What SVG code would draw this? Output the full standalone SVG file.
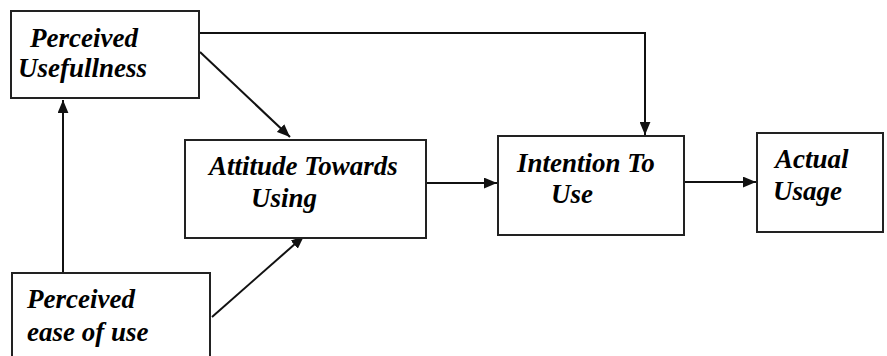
<svg xmlns="http://www.w3.org/2000/svg" width="887" height="356" viewBox="0 0 887 356">
<style>
.box{fill:#fff;stroke:#222;stroke-width:2}
.t{font-family:'Liberation Serif','Times New Roman',serif;font-weight:700;font-style:italic;font-size:27px;fill:#000}
.c{fill:none;stroke:#111;stroke-width:2}
</style>
<defs>
<marker id="ah" viewBox="0 0 12 10" refX="12" refY="5" markerWidth="13" markerHeight="11" markerUnits="userSpaceOnUse" orient="auto">
<path d="M0,0 L12,5 L0,10 z" fill="#111"/>
</marker>
</defs>
<rect width="887" height="356" fill="#fff"/>
<g id="connectors">
<line class="c" x1="63" y1="273" x2="63" y2="100" marker-end="url(#ah)"/>
<polyline class="c" points="199,33 645,33 645,135" marker-end="url(#ah)"/>
<line class="c" x1="200" y1="52" x2="290" y2="137" marker-end="url(#ah)"/>
<line class="c" x1="212" y1="317" x2="304" y2="236" marker-end="url(#ah)"/>
<line class="c" x1="426" y1="183" x2="497" y2="183" marker-end="url(#ah)"/>
<line class="c" x1="684" y1="182" x2="756" y2="182" marker-end="url(#ah)"/>
</g>
<g id="perceived-usefulness">
<rect class="box" x="11" y="11" width="188" height="87"/>
<text class="t" x="30" y="47">Perceived</text>
<text class="t" x="18" y="77">Usefullness</text>
</g>
<g id="attitude">
<rect class="box" x="185" y="140" width="241" height="98"/>
<text class="t" x="209" y="175">Attitude Towards</text>
<text class="t" x="251" y="207">Using</text>
</g>
<g id="intention">
<rect class="box" x="498" y="136" width="186" height="99"/>
<text class="t" x="517" y="172">Intention To</text>
<text class="t" x="551" y="203">Use</text>
</g>
<g id="actual-usage">
<rect class="box" x="757" y="133" width="126" height="99"/>
<text class="t" x="775" y="168">Actual</text>
<text class="t" x="773" y="200">Usage</text>
</g>
<g id="perceived-ease">
<rect class="box" x="12" y="273" width="198" height="100"/>
<text class="t" x="27" y="308">Perceived</text>
<text class="t" x="27" y="341">ease of use</text>
</g>
</svg>
